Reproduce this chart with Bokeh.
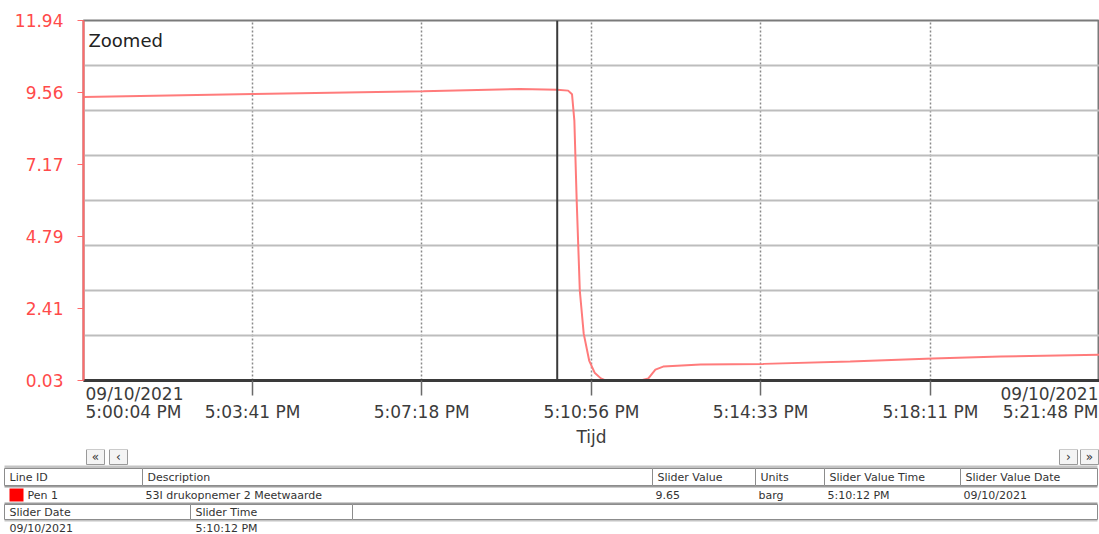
import numpy as np
import pandas as pd
from bokeh.plotting import figure
from bokeh.models import Range1d, FixedTicker, Span, Label
from bokeh.layouts import column, row
from bokeh.core.properties import value
from bokeh.embed import file_html
from bokeh.resources import INLINE

# ---------------- data ----------------
date_str = "2021-09-10"
date_label = "09/10/2021"
start_clock = "17:00:04"

# pressure trace: seconds after 5:00:04 PM and value in barg
elapsed_s = [0, 218, 436, 560, 608, 622, 627, 630, 633, 637, 642, 649, 656,
             664, 670, 715, 725, 734, 744, 792, 873, 984, 1090, 1177, 1304]
pressure = [9.41, 9.51, 9.60, 9.67, 9.65, 9.62, 9.50, 8.63, 5.98, 3.00, 1.58,
            0.69, 0.29, 0.10, 0.03, 0.03, 0.10, 0.39, 0.49, 0.56, 0.58, 0.66,
            0.76, 0.82, 0.88]

x_tick_clock = ["17:00:04", "17:03:41", "17:07:18", "17:10:56",
                "17:14:33", "17:18:11", "17:21:48"]
x_tick_labels = ["5:00:04 PM", "5:03:41 PM", "5:07:18 PM", "5:10:56 PM",
                 "5:14:33 PM", "5:18:11 PM", "5:21:48 PM"]
y_ticks = [0.03, 2.41, 4.79, 7.17, 9.56, 11.94]
y_tick_labels = ["0.03", "2.41", "4.79", "7.17", "9.56", "11.94"]
x_axis_title = "Tijd"
chart_note = "Zoomed"
slider_clock = "17:10:12"

table_headers = ["Line ID", "Description", "Slider Value", "Units",
                 "Slider Value Time", "Slider Value Date"]
pen_row = ["Pen 1", "53I drukopnemer 2 Meetwaarde", "9.65", "barg",
           "5:10:12 PM", "09/10/2021"]
slider_headers = ["Slider Date", "Slider Time"]
slider_row = ["09/10/2021", "5:10:12 PM"]
nav_left = ["\u00ab", "\u2039"]
nav_right = ["\u203a", "\u00bb"]

FONT = "DejaVu Sans"
AX_TXT = "#3c3c3c"


def ms(clock):
    return pd.Timestamp(f"{date_str} {clock}").value // 10**6


t0 = ms(start_clock)
xs = [t0 + s * 1000 for s in elapsed_s]
ticks = [ms(c) for c in x_tick_clock]

# ---------------- main trend figure ----------------
p = figure(width=1099, height=449, x_axis_type="datetime",
           x_range=Range1d(ticks[0], ticks[-1]),
           y_range=Range1d(y_ticks[0], y_ticks[-1]),
           output_backend="svg", toolbar_location=None,
           min_border_left=83, min_border_right=0,
           min_border_top=20, min_border_bottom=69)
p.background_fill_color = "white"
p.border_fill_color = "white"
p.outline_line_color = "#7a7a7a"
p.outline_line_width = 2

# grids
p.ygrid.ticker = FixedTicker(ticks=list(np.linspace(y_ticks[0], y_ticks[-1], 9)))
p.ygrid.grid_line_color = "#bdbdbd"
p.ygrid.grid_line_width = 2
p.xgrid.ticker = FixedTicker(ticks=ticks[1:-1])
p.xgrid.grid_line_color = "#8a8a8a"
p.xgrid.grid_line_width = 1.5
p.xgrid.grid_line_dash = "2 2"

# y axis
p.yaxis.ticker = FixedTicker(ticks=y_ticks)
p.yaxis.major_label_overrides = {v: l for v, l in zip(y_ticks, y_tick_labels)}
p.yaxis.axis_line_color = "#ff6a6a"
p.yaxis.axis_line_width = 2
p.yaxis.major_tick_line_color = "#ff6a6a"
p.yaxis.major_tick_out = 6
p.yaxis.major_tick_in = 0
p.yaxis.minor_tick_line_color = None
p.yaxis.major_label_text_color = "#ff4a4a"
p.yaxis.major_label_text_font = FONT
p.yaxis.major_label_text_font_size = "17px"
p.yaxis.major_label_standoff = 14

# x axis (inner ticks; end labels carry the date and are drawn in the strip below)
p.xaxis.ticker = FixedTicker(ticks=ticks[1:-1])
p.xaxis.major_label_overrides = {t: l for t, l in zip(ticks[1:-1], x_tick_labels[1:-1])}
p.xaxis.axis_line_color = "#3a3a3a"
p.xaxis.axis_line_width = 3
p.xaxis.major_tick_line_color = "#6a6a6a"
p.xaxis.major_tick_line_width = 1.5
p.xaxis.major_tick_out = 15
p.xaxis.major_tick_in = 0
p.xaxis.minor_tick_line_color = None
p.xaxis.major_label_text_color = AX_TXT
p.xaxis.major_label_text_font = FONT
p.xaxis.major_label_text_font_size = "17px"
p.xaxis.major_label_standoff = 6
p.xaxis.axis_label = x_axis_title
p.xaxis.axis_label_text_font = FONT
p.xaxis.axis_label_text_font_size = "17px"
p.xaxis.axis_label_text_font_style = "normal"
p.xaxis.axis_label_text_color = AX_TXT
p.xaxis.axis_label_standoff = 2

# trend line
p.line(xs, pressure, line_color="#ff7b7b", line_width=2)

# slider cursor
p.add_layout(Span(location=ms(slider_clock), dimension="height",
                  line_color="#3a3a3a", line_width=2))

p.add_layout(Label(x=ticks[0], y=y_ticks[-1], x_offset=5, y_offset=-9,
                   text=chart_note, text_align="left", text_baseline="top",
                   text_font=FONT, text_font_size="18px", text_color="#222222"))

# ---------------- end-of-axis labels (transparent strip over the axis area) ----------------
o = figure(width=1099, height=65, x_range=p.x_range, y_range=Range1d(449, 384),
           output_backend="svg", toolbar_location=None,
           min_border_left=83, min_border_right=0, min_border_top=0, min_border_bottom=0,
           x_axis_location=None, y_axis_location=None, margin=(-65, 0, 0, 0))
o.grid.visible = False
o.outline_line_color = None
o.background_fill_alpha = 0
o.border_fill_alpha = 0
END_TXT = dict(text_font=value(FONT), text_font_size="17px", text_color=AX_TXT,
               text_baseline="middle")
o.text(x=[ticks[0], ticks[0]], y=[393, 411], text=[date_label, x_tick_labels[0]],
       text_align="left", x_offset=2, **END_TXT)
o.text(x=[ticks[-1], ticks[-1]], y=[393, 411], text=[date_label, x_tick_labels[-1]],
       text_align="right", x_offset=-1, **END_TXT)

# ---------------- table / navigation strip (pixel-like coordinates) ----------------
t = figure(width=1099, height=85, x_range=Range1d(0, 1099), y_range=Range1d(534, 449),
           output_backend="svg", toolbar_location=None,
           min_border_left=0, min_border_right=0, min_border_top=0, min_border_bottom=0,
           x_axis_location=None, y_axis_location=None)
t.grid.visible = False
t.outline_line_color = None
t.background_fill_color = "white"
t.border_fill_color = "white"

TXT = dict(text_font=value(FONT), text_font_size="11px", text_color="#333333",
           text_baseline="middle", text_align="left")

# navigation buttons
nav_l_x = [86, 109]
nav_r_x = [1059, 1080]
for bx, s in zip(nav_l_x + nav_r_x, nav_left + nav_right):
    t.quad(left=bx, right=bx + 18, top=449, bottom=464, fill_color="#f4f4f4",
           line_color="#9a9a9a", line_width=1)
    t.text(x=[bx + 9], y=[456.5], text=[s], text_font=value(FONT), text_font_size="12px",
           text_color="#333333", text_baseline="middle", text_align="center")

# band lines
W0, W1 = 4, 1097
t.quad(left=W0, right=W1, top=465, bottom=468, fill_color="#c4c4c4", line_color=None)
t.quad(left=W0, right=W1, top=485, bottom=487, fill_color="#9c9c9c", line_color=None)
t.quad(left=W0, right=W1, top=502, bottom=504, fill_color="#9c9c9c", line_color=None)
t.quad(left=W0, right=W1, top=519, bottom=521, fill_color="#c4c4c4", line_color=None)

# header row cells
hdr_edges = [4, 142, 652, 755, 824, 960, 1097]
t.quad(left=hdr_edges[:-1], right=hdr_edges[1:], top=[468] * 6, bottom=[485] * 6,
       fill_color="white", line_color="#8c8c8c", line_width=1)
t.text(x=[e + 5 for e in hdr_edges[:-1]], y=[476.5] * 6, text=table_headers, **TXT)

# pen row
t.quad(left=[9], right=[23], top=[488], bottom=[501], fill_color="#ff0000", line_color=None)
row_x = [27] + [e + 3 for e in hdr_edges[1:-1]]
t.text(x=row_x, y=[494.5] * 6, text=pen_row, **TXT)

# slider header row
sl_edges = [4, 190, 352, 1097]
t.quad(left=sl_edges[:-1], right=sl_edges[1:], top=[504] * 3, bottom=[519] * 3,
       fill_color="white", line_color="#8c8c8c", line_width=1)
t.text(x=[e + 5 for e in sl_edges[:2]], y=[511.5] * 2, text=slider_headers, **TXT)

# slider values row
t.text(x=[e + 5 for e in sl_edges[:2]], y=[527.5] * 2, text=slider_row, **TXT)

layout = column(p, o, row(t))
open("out.html", "w").write(file_html(layout, INLINE))
